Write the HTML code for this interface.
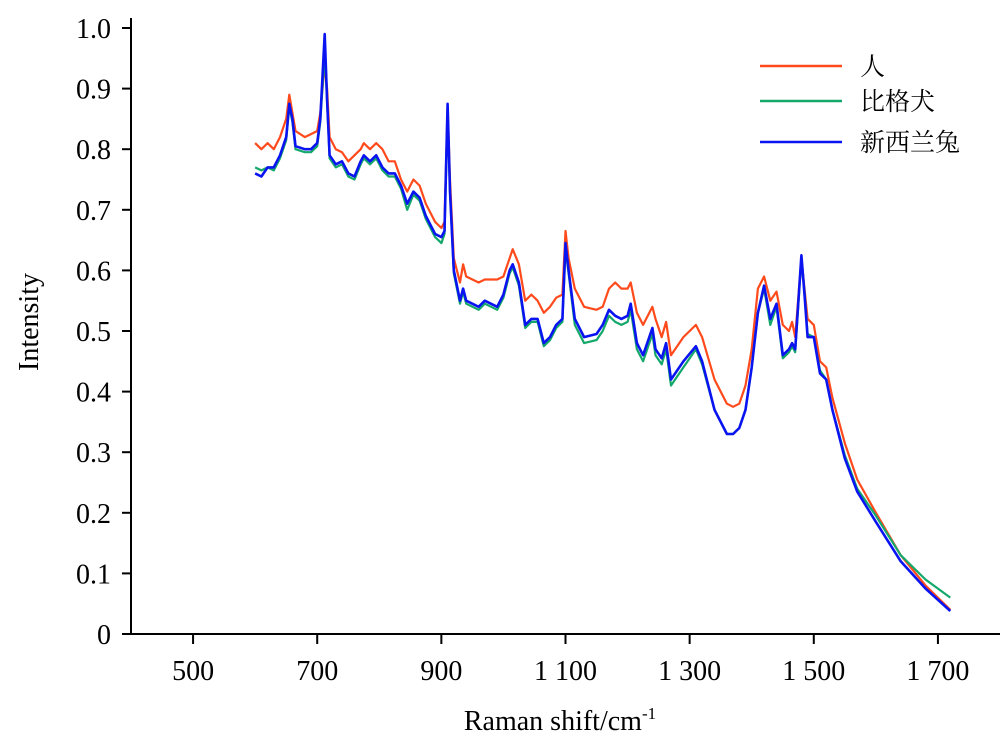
<!DOCTYPE html>
<html><head><meta charset="utf-8"><style>
body{margin:0;background:#fff;}
svg text{font-family:"Liberation Serif","Noto Serif CJK SC","Noto Sans CJK SC",serif;fill:#000;}
</style></head><body>
<svg id="chart" width="1000" height="743" xmlns="http://www.w3.org/2000/svg">
<g id="axes"></g>
<g id="series"></g>
<g id="legend"></g>
<text x="0" y="0" font-size="28" text-anchor="middle" transform="translate(38,322) rotate(-90)">Intensity</text>
<text x="560" y="730" font-size="28" text-anchor="middle">Raman shift/cm<tspan font-size="17" dy="-11">-1</tspan></text>
</svg>
<script>
const wn=[600,610,620,630,640,650,655,660,665,680,690,700,705,712,716,720,730,740,750,760,770,775,785,795,805,815,825,835,845,855,865,875,890,900,905,910,914,920,930,935,940,960,970,990,1000,1010,1015,1025,1035,1045,1055,1065,1075,1085,1095,1100,1105,1115,1130,1150,1160,1170,1180,1190,1200,1205,1215,1225,1240,1245,1255,1262,1270,1290,1310,1320,1340,1360,1370,1380,1390,1400,1410,1420,1430,1440,1450,1460,1465,1470,1480,1485,1490,1500,1510,1520,1530,1550,1570,1600,1640,1680,1720];
const human=[0.81,0.80,0.81,0.80,0.82,0.85,0.89,0.86,0.83,0.82,0.825,0.83,0.86,0.94,0.90,0.82,0.80,0.795,0.78,0.79,0.80,0.81,0.80,0.81,0.80,0.78,0.78,0.75,0.73,0.75,0.74,0.71,0.68,0.67,0.68,0.87,0.75,0.62,0.58,0.61,0.59,0.58,0.585,0.585,0.59,0.62,0.635,0.61,0.55,0.56,0.55,0.53,0.54,0.555,0.56,0.665,0.62,0.57,0.54,0.535,0.54,0.57,0.58,0.57,0.57,0.58,0.53,0.51,0.54,0.52,0.49,0.515,0.46,0.49,0.51,0.49,0.42,0.38,0.375,0.38,0.41,0.47,0.57,0.59,0.55,0.565,0.51,0.50,0.515,0.49,0.62,0.57,0.52,0.51,0.45,0.44,0.39,0.315,0.255,0.20,0.13,0.08,0.04];
const beagle=[0.77,0.765,0.77,0.765,0.785,0.815,0.87,0.845,0.80,0.795,0.795,0.805,0.845,0.96,0.88,0.785,0.77,0.775,0.755,0.75,0.775,0.785,0.775,0.785,0.765,0.755,0.755,0.735,0.70,0.725,0.715,0.685,0.655,0.645,0.66,0.86,0.73,0.595,0.545,0.565,0.545,0.535,0.545,0.535,0.555,0.595,0.605,0.575,0.505,0.515,0.515,0.475,0.485,0.505,0.515,0.635,0.595,0.51,0.48,0.485,0.5,0.525,0.515,0.51,0.515,0.535,0.47,0.45,0.495,0.46,0.445,0.47,0.41,0.44,0.47,0.445,0.37,0.33,0.33,0.34,0.37,0.44,0.53,0.57,0.51,0.54,0.455,0.465,0.475,0.465,0.62,0.565,0.495,0.49,0.435,0.42,0.37,0.295,0.24,0.195,0.13,0.09,0.06];
const rabbit=[0.76,0.755,0.77,0.77,0.79,0.82,0.875,0.85,0.805,0.80,0.80,0.81,0.85,0.99,0.88,0.79,0.775,0.78,0.76,0.755,0.78,0.79,0.78,0.79,0.77,0.76,0.76,0.74,0.71,0.73,0.72,0.69,0.66,0.655,0.665,0.875,0.73,0.60,0.55,0.57,0.55,0.54,0.55,0.54,0.56,0.60,0.61,0.58,0.51,0.52,0.52,0.48,0.49,0.51,0.52,0.645,0.60,0.52,0.49,0.495,0.51,0.535,0.525,0.52,0.525,0.545,0.48,0.46,0.505,0.47,0.455,0.48,0.42,0.45,0.475,0.45,0.37,0.33,0.33,0.34,0.37,0.44,0.53,0.575,0.52,0.545,0.46,0.47,0.48,0.47,0.625,0.56,0.49,0.49,0.43,0.42,0.37,0.29,0.235,0.185,0.12,0.075,0.038];
const xTicks=[500,700,900,1100,1300,1500,1700];
const xTickLabels=["500","700","900","1 100","1 300","1 500","1 700"];
const yTicks=[0,0.1,0.2,0.3,0.4,0.5,0.6,0.7,0.8,0.9,1.0];
const yTickLabels=["0","0.1","0.2","0.3","0.4","0.5","0.6","0.7","0.8","0.9","1.0"];
const seriesNames=["人","比格犬","新西兰兔"];
const seriesColors=["#ff4a1c","#14a86a","#0a14f0"];

const NS="http://www.w3.org/2000/svg";
const X0=131,X1=1000,Y0=634,YTOP=28;
function sx(v){return X0+(v-400)*(X1-X0)/1400;}
function sy(v){return Y0-v*(Y0-YTOP);}
function mk(t,a,p){const e=document.createElementNS(NS,t);for(const k in a)e.setAttribute(k,a[k]);p.appendChild(e);return e;}
const axes=document.getElementById('axes');
const xl=mk('line',{x1:X0,y1:Y0,x2:X1,y2:Y0,stroke:'#000','stroke-width':2},axes);


const yl=mk('line',{x1:X0,y1:Y0+1,x2:X0,y2:YTOP-10,stroke:'#000','stroke-width':2},axes);


xTicks.forEach((v,i)=>{
  const t=mk('line',{x1:sx(v),y1:Y0,x2:sx(v),y2:Y0+10,stroke:'#000','stroke-width':2},axes);
  
  
  const l=mk('text',{x:sx(v),y:Y0+46,'font-size':28,'text-anchor':'middle'},axes);
  l.textContent=xTickLabels[i];
  
  
});
yTicks.forEach((v,i)=>{
  const t=mk('line',{x1:X0-9,y1:sy(v),x2:X0,y2:sy(v),stroke:'#000','stroke-width':2},axes);
  
  
  const l=mk('text',{x:X0-20,y:sy(v)+10,'font-size':28,'text-anchor':'end'},axes);
  l.textContent=yTickLabels[i];
  
  
});
const sg=document.getElementById('series');
[human,beagle,rabbit].forEach((arr,si)=>{
  const d=arr.map((v,i)=>(i?'L':'M')+sx(wn[i]).toFixed(1)+','+sy(v).toFixed(1)).join('');
  const p=mk('path',{d:d,fill:'none',stroke:seriesColors[si],'stroke-width':si==2?2.6:2.2,'stroke-linejoin':'round'},sg);
  
  
});
const lg=document.getElementById('legend');
const ly=[66,101,142];
seriesNames.forEach((n,i)=>{
  const g=mk('g',{},lg);
  
  
  mk('line',{x1:760,y1:ly[i],x2:842,y2:ly[i],stroke:seriesColors[i],'stroke-width':2.4},g);
  const t=mk('text',{x:860,y:ly[i]+9,'font-size':25},g);
  t.textContent=n;
});
</script>
</body></html>
